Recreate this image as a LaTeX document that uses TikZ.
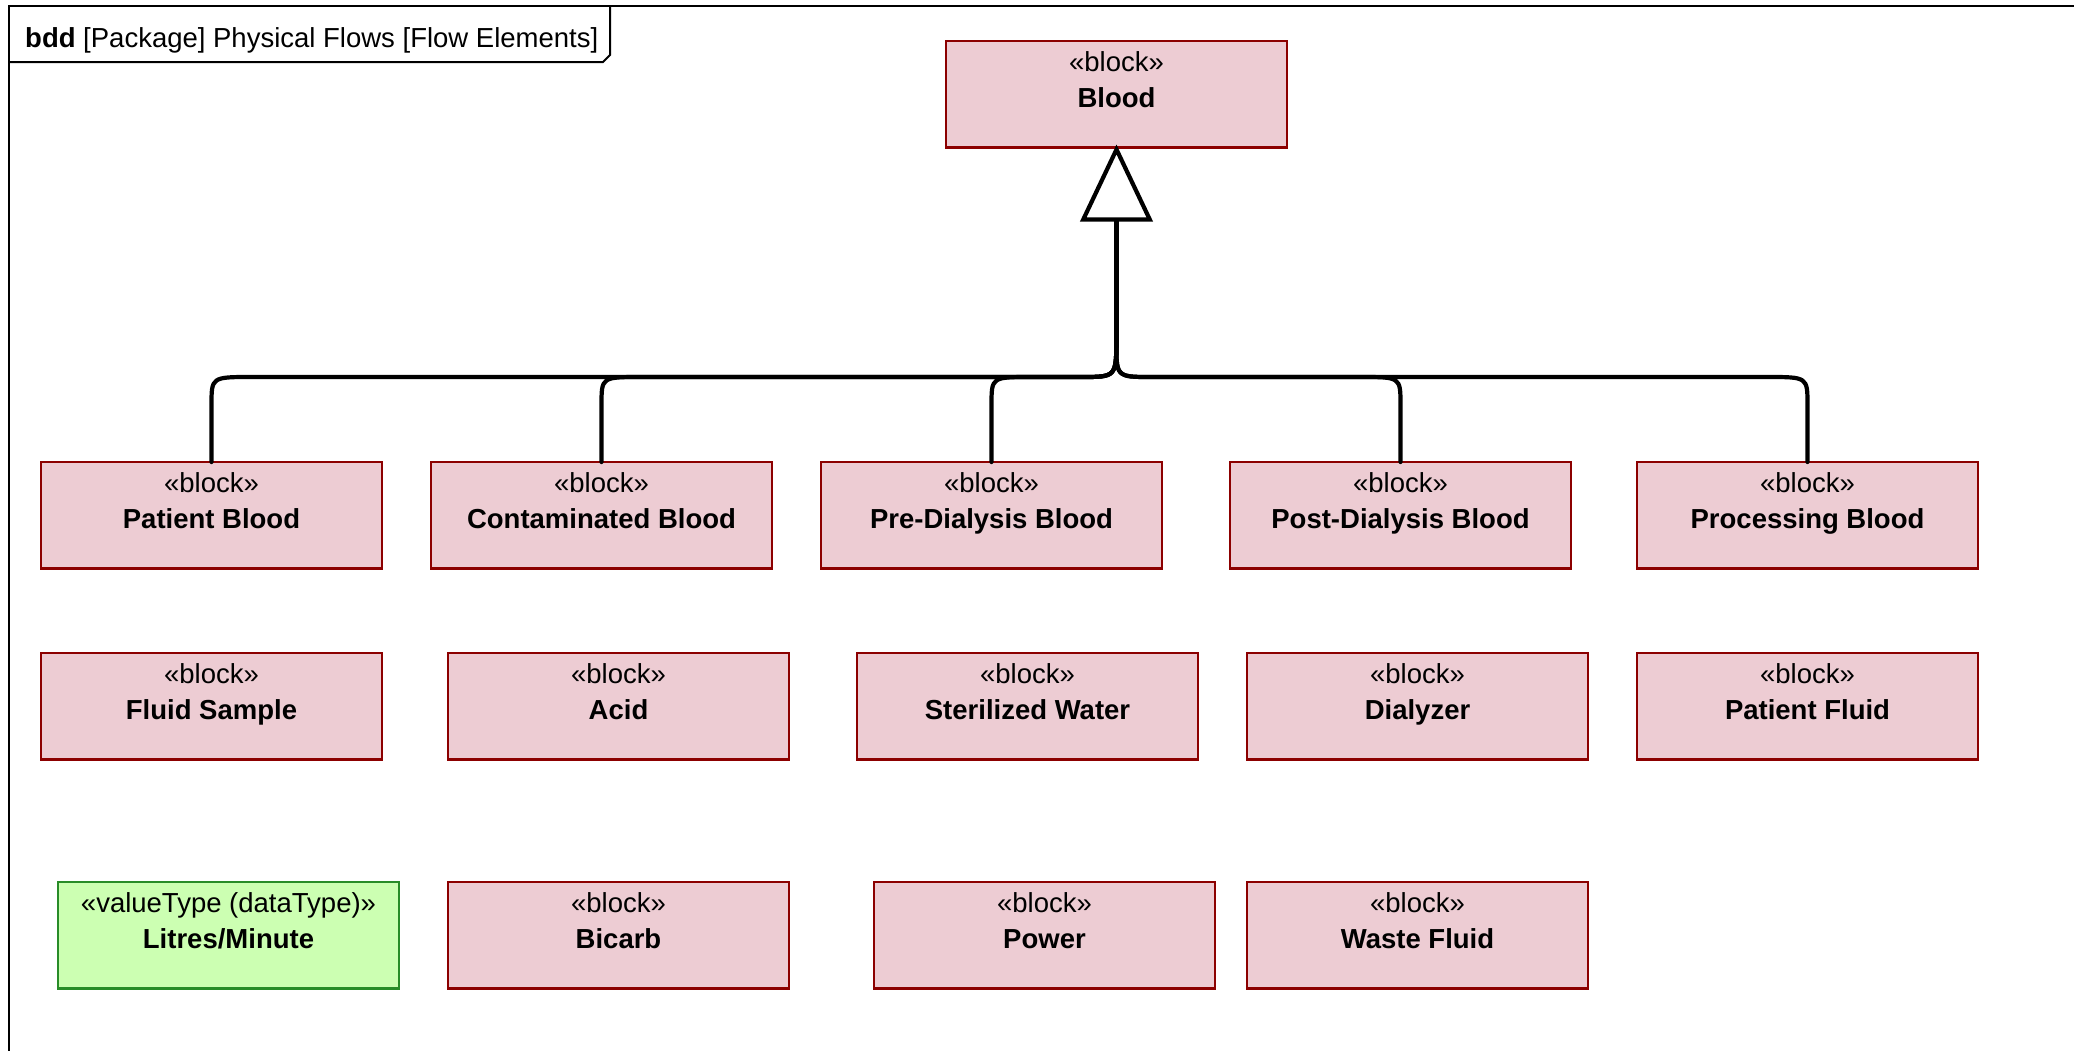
\documentclass[tikz,border=0pt]{standalone}
\usepackage{fontspec}
\setmainfont{Liberation Sans}
\usetikzlibrary{arrows.meta,calc}

\definecolor{blockfill}{RGB}{237,204,211}
\definecolor{blockline}{RGB}{140,0,0}
\definecolor{vtfill}{RGB}{204,255,178}
\definecolor{vtline}{RGB}{40,140,40}

\tikzset{
  umlbox/.style={rectangle, anchor=north west, line width=2.4pt,
    minimum width=341pt, minimum height=106.5pt, inner sep=0pt, outer sep=0pt},
  blockbox/.style={umlbox, draw=blockline, fill=blockfill},
  valuebox/.style={umlbox, draw=vtline, fill=vtfill},
  stereo/.style={anchor=base, inner sep=0pt, font=\fontsize{27.5pt}{33pt}\selectfont},
  title/.style={anchor=base, inner sep=0pt, font=\fontsize{27.5pt}{33pt}\selectfont\bfseries},
  conn/.style={line width=4.2pt, line cap=round, line join=round},
  frameline/.style={line width=2.6pt},
}

% box with stereotype and name lines
\newcommand\umlelem[6]{% name, style, left, top, stereotype, title
  \node[#2] (#1) at (#3,#4) {};
  \node[stereo] (#1-st) at ($(#1.north)+(0,30)$) {#5};
  \node[title]  (#1-nm) at ($(#1.north)+(0,66)$) {#6};
}

\begin{document}
\begin{tikzpicture}[x=1pt,y=-1pt]
\useasboundingbox (0,0) rectangle (2074,1050);
\fill[white] (0,0) rectangle (2074,1050);

% diagram frame and name tab
\draw[frameline] (9,1052) -- (9,6) -- (2076,6);
\draw[line width=2pt] (9,62) -- (603,62) -- (610,55) -- (610,6);
\node[anchor=base west, inner sep=0pt, font=\fontsize{27.5pt}{33pt}\selectfont]
  (hdr) at (25,47) {\textbf{bdd} [Package] Physical Flows [Flow Elements]};

% general block
\umlelem{blood}{blockbox}{946}{41}{«block»}{Blood}

% specialisations
\umlelem{pb}{blockbox}{41}{462}{«block»}{Patient Blood}
\umlelem{cb}{blockbox}{431}{462}{«block»}{Contaminated Blood}
\umlelem{preb}{blockbox}{821}{462}{«block»}{Pre-Dialysis Blood}
\umlelem{postb}{blockbox}{1230}{462}{«block»}{Post-Dialysis Blood}
\umlelem{procb}{blockbox}{1637}{462}{«block»}{Processing Blood}

% second row
\umlelem{fs}{blockbox}{41}{653}{«block»}{Fluid Sample}
\umlelem{acid}{blockbox}{448}{653}{«block»}{Acid}
\umlelem{sw}{blockbox}{857}{653}{«block»}{Sterilized Water}
\umlelem{dz}{blockbox}{1247}{653}{«block»}{Dialyzer}
\umlelem{pf}{blockbox}{1637}{653}{«block»}{Patient Fluid}

% third row
\umlelem{lpm}{valuebox}{58}{882}{«valueType (dataType)»}{Litres/Minute}
\umlelem{bic}{blockbox}{448}{882}{«block»}{Bicarb}
\umlelem{pow}{blockbox}{874}{882}{«block»}{Power}
\umlelem{wf}{blockbox}{1247}{882}{«block»}{Waste Fluid}

% generalization tree
\coordinate (j) at (blood.south |- 0,340);
\draw[conn, -{Triangle[open, length=77pt, width=72pt, line join=miter]}] (j) -- ($(blood.south)+(0,-3)$);
\foreach \c in {pb,cb,preb}{
  \draw[conn] (\c.north) -- (\c.north |- 0,405)
    .. controls (\c.north |- 0,377) .. ($(\c.north |- 0,377)+(40,0)$)
    -- (1081,377) .. controls (1116,377) .. (j);
}
\foreach \c in {postb,procb}{
  \draw[conn] (\c.north) -- (\c.north |- 0,405)
    .. controls (\c.north |- 0,377) .. ($(\c.north |- 0,377)+(-40,0)$)
    -- (1151,377) .. controls (1116,377) .. (j);
}
\end{tikzpicture}
\end{document}
